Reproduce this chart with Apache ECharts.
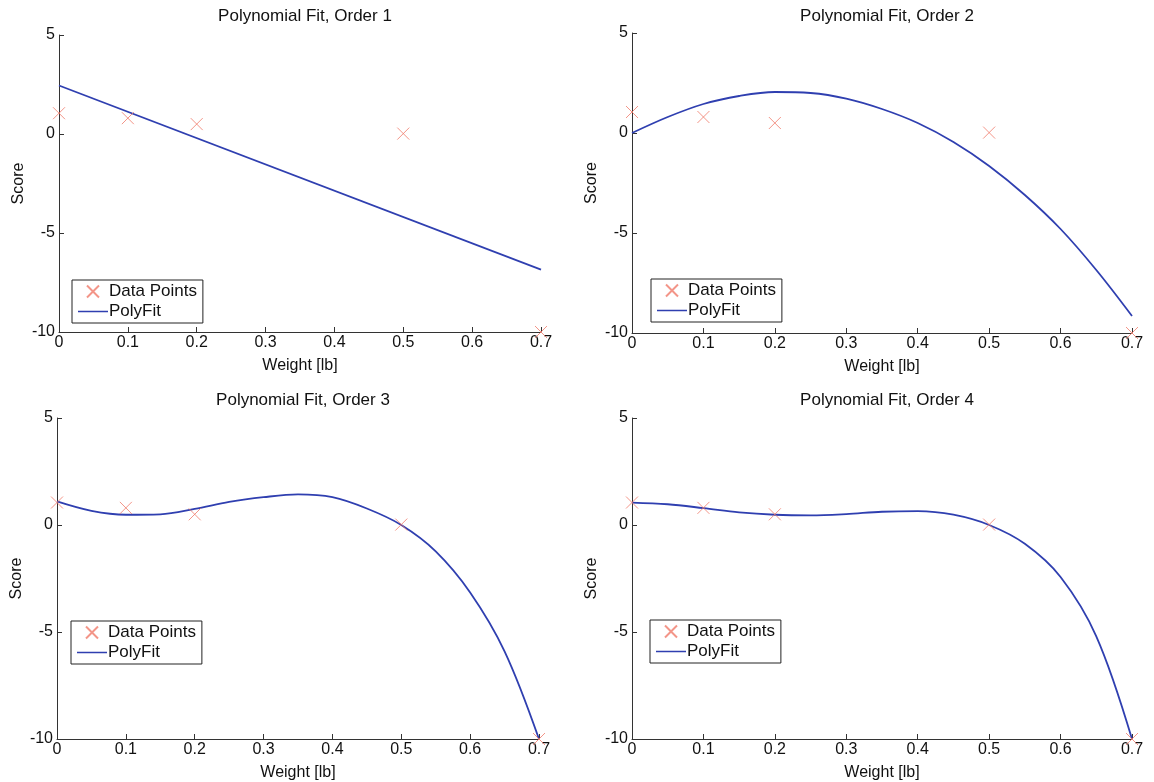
<!DOCTYPE html>
<html>
<head>
<meta charset="utf-8">
<script src="https://cdn.jsdelivr.net/npm/echarts@6/dist/echarts.min.js"></script>
<style>
  html, body { margin: 0; padding: 0; background: #fff; }
  #chart { width: 1154px; height: 782px; }
</style>
</head>
<body>
<div id="chart"></div>
<script>
// measured points (same in every panel)
var weights = [0, 0.1, 0.2, 0.5, 0.7];
var scores = [1.05, 0.8, 0.5, 0.02, -10];

// fitted curves
var fitX1 = [0, 0.7];
var fitY1 = [2.45, -6.85];
var fitX = [0, 0.05, 0.1, 0.15, 0.2, 0.25, 0.3, 0.35, 0.4, 0.45, 0.5, 0.55, 0.6, 0.65, 0.7];
var fitY2 = [0.0, 0.8, 1.45, 1.85, 2.05, 2.0, 1.72, 1.2, 0.5, -0.45, -1.65, -3.1, -4.8, -6.85, -9.15];
var fitY3 = [1.1, 0.66, 0.48, 0.5, 0.75, 1.08, 1.3, 1.43, 1.3, 0.77, 0.0, -1.23, -3.15, -5.9, -10.0];
var fitY4 = [1.05, 0.97, 0.79, 0.59, 0.48, 0.45, 0.51, 0.62, 0.65, 0.48, 0.0, -0.88, -2.43, -5.2, -10.0];

var titles = ["Polynomial Fit, Order 1", "Polynomial Fit, Order 2", "Polynomial Fit, Order 3", "Polynomial Fit, Order 4"];

var fits = [
  [fitX1, fitY1],
  [fitX, fitY2],
  [fitX, fitY3],
  [fitX, fitY4]
];

var grids = [
  { left: 59, top: 35, width: 482, height: 297 },
  { left: 632, top: 33, width: 500, height: 300 },
  { left: 57, top: 418, width: 482, height: 322 },
  { left: 632, top: 418, width: 500, height: 322 }
];
var legendPos = [
  { left: 72, top: 280 },
  { left: 651, top: 279 },
  { left: 71, top: 621 },
  { left: 650, top: 620 }
];

var FONT = "Liberation Sans";
var axisColor = "#333";
var red = "#f07a6a";
var blue = "#2f3fb0";
var crossPath = "path://M0,0L10,10M10,0L0,10";
// thin bar with two invisible corner dots so it keeps a 30x12 box
var lineIcon = "path://M0,5.3H30V6.7H0Z M0,0H0.01V0.01H0Z M29.99,11.99H30V12H29.99Z";

function pairs(xs, ys) {
  var out = [];
  for (var i = 0; i < xs.length; i++) out.push([xs[i], ys[i]]);
  return out;
}

var opt = {
  backgroundColor: "#fff",
  animation: false,
  textStyle: { fontFamily: FONT },
  title: [],
  grid: grids,
  legend: [],
  xAxis: [],
  yAxis: [],
  series: []
};

for (var i = 0; i < 4; i++) {
  var g = grids[i];
  opt.title.push({
    text: titles[i],
    left: g.left + g.width / 2,
    top: i < 2 ? 3 : 387,
    textAlign: "center",
    textStyle: { fontFamily: FONT, fontSize: 17, fontWeight: "normal", color: "#111" }
  });
  opt.legend.push({
    orient: "vertical",
    left: legendPos[i].left,
    top: legendPos[i].top,
    data: [
      { name: "Data Points" },
      { name: "PolyFit", icon: lineIcon, itemStyle: { color: blue, borderWidth: 0 } }
    ],
    itemWidth: 30,
    itemHeight: 12,
    itemGap: 3,
    padding: [3, 6, 3, 6],
    borderColor: "#222",
    borderWidth: 1,
    backgroundColor: "#fff",
    selectedMode: false,
    textStyle: { fontFamily: FONT, fontSize: 17, color: "#111", padding: [0, 0, 0, -4] }
  });
  opt.xAxis.push({
    type: "value",
    gridIndex: i,
    min: 0,
    max: 0.7,
    interval: 0.1,
    name: "Weight [lb]",
    nameLocation: "middle",
    nameGap: 26,
    nameTextStyle: { fontFamily: FONT, fontSize: 16, color: "#111" },
    axisLine: { onZero: false, lineStyle: { color: axisColor, width: 1 } },
    axisTick: { inside: true, length: 5, lineStyle: { color: axisColor } },
    axisLabel: { fontFamily: FONT, fontSize: 16, color: "#111", margin: 3 },
    splitLine: { show: false }
  });
  opt.yAxis.push({
    type: "value",
    gridIndex: i,
    min: -10,
    max: 5,
    interval: 5,
    name: "Score",
    nameLocation: "middle",
    nameRotate: 90,
    nameGap: 32,
    nameTextStyle: { fontFamily: FONT, fontSize: 16, color: "#111" },
    axisLine: { onZero: false, lineStyle: { color: axisColor, width: 1 } },
    axisTick: { inside: true, length: 5, lineStyle: { color: axisColor } },
    axisLabel: { fontFamily: FONT, fontSize: 16, color: "#111", margin: 4 },
    splitLine: { show: false }
  });
  opt.series.push({
    name: "Data Points",
    type: "scatter",
    xAxisIndex: i,
    yAxisIndex: i,
    symbol: crossPath,
    symbolSize: 12,
    itemStyle: { color: "transparent", borderColor: red, borderWidth: 1 },
    data: pairs(weights, scores),
    z: 3
  });
  opt.series.push({
    name: "PolyFit",
    type: "line",
    xAxisIndex: i,
    yAxisIndex: i,
    symbol: "none",
    smooth: i === 0 ? false : 0.35,
    lineStyle: { color: blue, width: 1.8 },
    itemStyle: { color: blue },
    data: pairs(fits[i][0], fits[i][1]),
    z: 2
  });
}

var chart = echarts.init(document.getElementById("chart"));
chart.setOption(opt);
</script>
</body>
</html>
